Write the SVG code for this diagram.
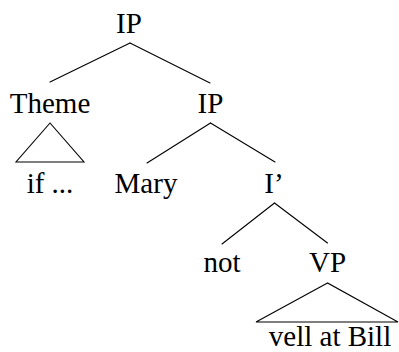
<svg xmlns="http://www.w3.org/2000/svg" width="399" height="352" viewBox="0 0 399 352">
  <style>
    text { font-family: "Liberation Serif", "Times New Roman", serif; font-size: 29px; fill: #000; text-anchor: middle; }
    .edge { stroke: #000; stroke-width: 1.1; fill: none; stroke-linecap: round; }
  </style>
  <rect width="399" height="352" fill="#fff"/>
  <g id="connectors">
    <line class="edge" x1="130" y1="43" x2="50" y2="82"/>
    <line class="edge" x1="130" y1="43" x2="210" y2="83"/>
    <line class="edge" x1="210.5" y1="123" x2="147" y2="163"/>
    <line class="edge" x1="210.5" y1="123" x2="275" y2="162"/>
    <line class="edge" x1="274.5" y1="203" x2="222" y2="244"/>
    <line class="edge" x1="274.5" y1="203" x2="327.5" y2="243"/>
    <polygon class="edge" points="50,123 16,162 84,162"/>
    <polygon class="edge" points="327.5,283 256,322 398,322"/>
  </g>
  <g id="ip-root"><text x="129" y="33">IP</text></g>
  <g id="theme"><text x="50" y="113">Theme</text></g>
  <g id="ip"><text x="210.5" y="113">IP</text></g>
  <g id="if"><text x="50" y="193">if ...</text></g>
  <g id="mary"><text x="146" y="193">Mary</text></g>
  <g id="i-bar"><text x="274" y="193">I’</text></g>
  <g id="not"><text x="222" y="272">not</text></g>
  <g id="vp"><text x="327.5" y="272">VP</text></g>
  <g id="vell-at-bill"><text x="330" y="346">vell at Bill</text></g>
</svg>
